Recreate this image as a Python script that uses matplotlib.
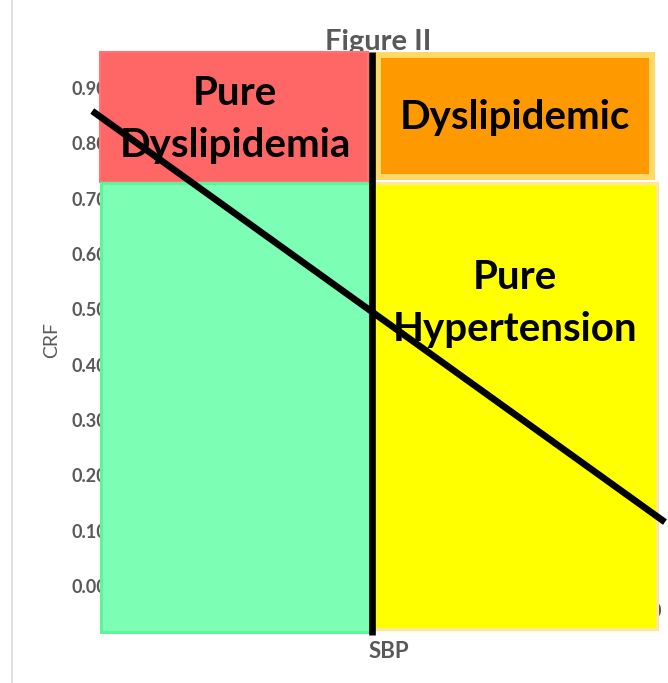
import matplotlib.pyplot as plt
from matplotlib.patches import Rectangle
from matplotlib.lines import Line2D

# data
y_ticks = [0.0, 0.1, 0.2, 0.3, 0.4, 0.5, 0.6, 0.7, 0.8, 0.9]
y_ticklabels = ['0.00', '0.10', '0.20', '0.30', '0.40', '0.50', '0.60', '0.70', '0.80', '0.90']
trend_x = [-0.009, 1.004]
trend_y = [0.855, 0.119]
sbp_cut = 0.486
sbp_line_y = [-0.0886, 0.965]
# quadrants: (x0, x1, y0, y1)
quad_names = ['Pure\nDyslipidemia', 'Dyslipidemic', '', 'Pure\nHypertension']
quad_boxes = [(0.0, 0.479, 0.730, 0.965),
              (0.496, 0.986, 0.739, 0.960),
              (0.002, 0.482, -0.083, 0.728),
              (0.490, 0.994, -0.077, 0.729)]
quad_fill = ['#FF6666', '#FF9900', '#7CFFB5', '#FFFF00']
quad_edge = ['#FF7373', '#FFD966', '#5FF39C', '#FFE699']
quad_lw = [1.5, 4.3, 2.2, 2.2]
label_pos = [(0.241, 0.843), (0.741, 0.847), None, (0.741, 0.511)]

W, H = 668, 683
fig = plt.figure(figsize=(W / 100, H / 100), dpi=100)
ax = fig.add_axes([100 / W, 1 - 665 / H, 560 / W, 645 / H])
ax.patch.set_visible(False)
ax.set_xlim(0, 1)
ax.set_ylim(-0.1428, 1.023)
for s in ax.spines.values():
    s.set_visible(False)
ax.set_xticks([])
ax.set_yticks(y_ticks)
ax.set_yticklabels(y_ticklabels, fontsize=13, fontweight='bold', family='Lato',
                   color='#595959')
ax.tick_params(axis='y', length=0, pad=-5)

# right-most x tick label, almost hidden behind the yellow box
ax.text(0.993, -0.047, '0', ha='center', va='center', fontsize=13,
        fontweight='bold', family='Lato', color='#595959', zorder=2)

for (x0, x1, y0, y1), fc, ec, lw in zip(quad_boxes, quad_fill, quad_edge, quad_lw):
    ax.add_patch(Rectangle((x0, y0), x1 - x0, y1 - y0, facecolor=fc, edgecolor=ec,
                           linewidth=lw, zorder=3, clip_on=False))

ax.plot([sbp_cut, sbp_cut], sbp_line_y, color='black', lw=4.8, zorder=4,
        clip_on=False, solid_capstyle='butt')
ax.plot(trend_x, trend_y, color='black', lw=4.8, zorder=4, clip_on=False)

for name, pos in zip(quad_names, label_pos):
    if pos:
        ax.text(pos[0], pos[1], name, ha='center', va='center', fontsize=29,
                fontweight='bold', family='Lato', linespacing=1.5, zorder=5)

fig.text(378 / W, 1 - 42 / H, 'Figure II', ha='center', va='center', fontsize=21,
         fontweight='bold', family='Lato', color='#595959', zorder=-1)
fig.text(52 / W, 1 - 340 / H, 'CRF', ha='center', va='center', rotation=90,
         fontsize=14, family='Lato', color='#595959')
fig.text(389 / W, 1 - 651 / H, 'SBP', ha='center', va='center',
         fontsize=16, fontweight='bold', family='Lato', color='#595959')
fig.add_artist(Line2D([12 / W, 12 / W], [0, 1], color='#D9D9D9', lw=1.2))

fig.savefig('out.png', dpi=100)
